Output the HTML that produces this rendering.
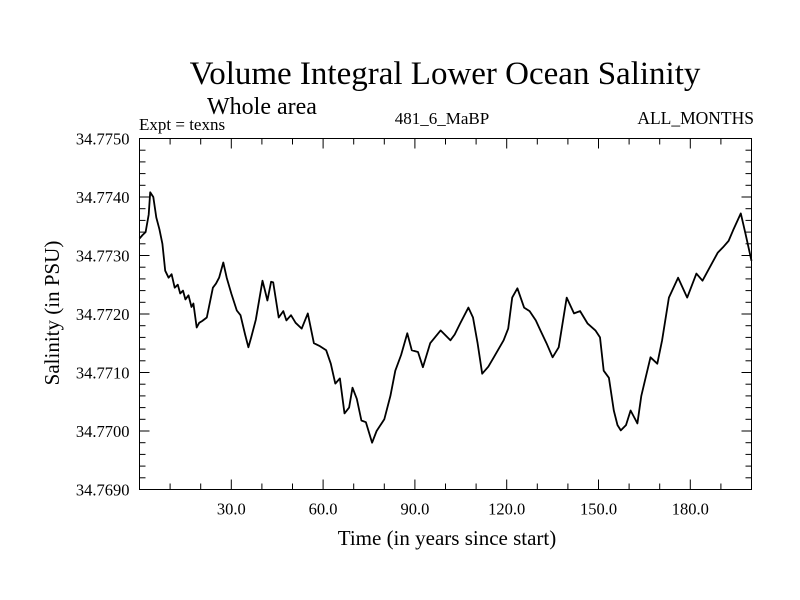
<!DOCTYPE html>
<html><head><meta charset="utf-8"><style>
body{margin:0;background:#fff}
svg{display:block;font-family:"Liberation Serif",serif}
</style></head><body>
<svg id="chart" width="800" height="600" viewBox="0 0 800 600">
<rect width="800" height="600" fill="#fff"/>
<text x="445" y="84" font-size="33" text-anchor="middle">Volume Integral Lower Ocean Salinity</text>
<text x="207" y="114" font-size="24">Whole area</text>
<text x="139" y="130" font-size="17">Expt = texns</text>
<text x="442" y="124" font-size="17" text-anchor="middle">481_6_MaBP</text>
<text x="754" y="124" font-size="17.5" text-anchor="end">ALL_MONTHS</text>
<text transform="translate(59,313) rotate(-90)" font-size="21" text-anchor="middle">Salinity (in PSU)</text>
<text x="447" y="545" font-size="21" text-anchor="middle">Time (in years since start)</text>
<g id="axes"></g>
<path id="line" fill="none" stroke="#000" stroke-width="1.8" stroke-linejoin="round"/>
<rect x="139.5" y="138.5" width="612" height="351" fill="none" stroke="#000" stroke-width="1"/>
</svg>
<script>
const years=[0,1,2,3,3.5,4.5,5.5,6.5,7.5,8.4,9.5,10.5,11.5,12.5,13.3,14.2,15,16,17,17.6,18.7,19.5,20.5,22,23,24,25,26,27.4,28.5,30,31.8,33,34.5,35.6,36.5,38,40.2,41,41.8,43,43.7,45.5,47,48,49.5,51,53,55,57,59,61,62.5,64,65.5,67,68.5,69.6,71,72.5,74,76,77.5,80,82,83.6,85.5,87.5,89,91,92.6,95,98.4,101.6,103,104.8,107.5,109,110.5,112,114,115.8,119,120.5,121.8,123.5,125.7,127.5,129.5,131,133,135,137,139.6,142,144,146.4,149,150.5,151.7,153.4,155,156.2,157.3,159,160.5,162.7,164,165.4,167,169.2,170.8,173,176,179,182,184,187.5,189,190.7,192.5,194,196.5,198,200];
const salinity=[34.77329,34.77335,34.77340,34.77370,34.77408,34.77400,34.77365,34.77345,34.77320,34.77274,34.77262,34.77268,34.77245,34.77250,34.77235,34.77240,34.77225,34.77232,34.77212,34.77218,34.77177,34.77185,34.77188,34.77194,34.77220,34.77245,34.77252,34.77262,34.77288,34.77262,34.77235,34.77206,34.77198,34.77165,34.77143,34.77160,34.77190,34.77257,34.77240,34.77223,34.77255,34.77254,34.77194,34.77205,34.77189,34.77198,34.77185,34.77175,34.77201,34.77150,34.77145,34.77138,34.77115,34.77081,34.77090,34.77030,34.77040,34.77074,34.77055,34.77018,34.77015,34.76980,34.77000,34.77020,34.77060,34.77103,34.77130,34.77167,34.77138,34.77135,34.77109,34.77150,34.77172,34.77155,34.77165,34.77184,34.77211,34.77194,34.77150,34.77098,34.77110,34.77126,34.77155,34.77175,34.77228,34.77244,34.77211,34.77205,34.77189,34.77172,34.77150,34.77126,34.77143,34.77228,34.77201,34.77205,34.77184,34.77172,34.77160,34.77103,34.77091,34.77035,34.77010,34.77001,34.77010,34.77035,34.77013,34.77060,34.77091,34.77126,34.77115,34.77155,34.77228,34.77262,34.77228,34.77269,34.77257,34.77291,34.77305,34.77314,34.77325,34.77343,34.77372,34.77338,34.77291];
const xTicks=[30,60,90,120,150,180];
const xTickLabels=["30.0","60.0","90.0","120.0","150.0","180.0"];
const yTicks=[34.7690,34.7700,34.7710,34.7720,34.7730,34.7740,34.7750];
const yTickLabels=["34.7690","34.7700","34.7710","34.7720","34.7730","34.7740","34.7750"];
const X0=139.5,X1=751.5,Y0=489.5,Y1=138.5;
const xs=v=>X0+(v-0)/(200-0)*(X1-X0);
const ys=v=>Y0-(v-34.769)/(34.775-34.769)*(Y0-Y1);
const NS='http://www.w3.org/2000/svg';
const g=document.getElementById('axes');
function ln(x1,y1,x2,y2,name){const l=document.createElementNS(NS,'line');
l.setAttribute('x1',x1);l.setAttribute('y1',y1);l.setAttribute('x2',x2);l.setAttribute('y2',y2);l.setAttribute('stroke','#000');


g.appendChild(l);}
function tx(x,y,s,anchor,name){const t=document.createElementNS(NS,'text');
t.setAttribute('x',x);t.setAttribute('y',y);t.setAttribute('font-size','16.5');t.setAttribute('text-anchor',anchor);t.textContent=s;


g.appendChild(t);}
for(let v=10;v<200;v+=10){const x=xs(v);const L=(v%30===0)?10:6;
ln(x,Y0,x,Y0-L,'x-tick');ln(x,Y1,x,Y1+L,'x-tick-top');}
for(let i=1;i<30;i++){const v=34.769+i*0.0002;const y=ys(v);const L=(i%5===0)?10:6;
ln(X0,y,X0+L,y,'y-tick');ln(X1,y,X1-L,y,'y-tick-right');}
xTicks.forEach((v,i)=>tx(xs(v),Y0+25,xTickLabels[i],'middle','x-tick-label'));
yTicks.forEach((v,i)=>tx(X0-10,ys(v)+6,yTickLabels[i],'end','y-tick-label'));
document.getElementById('line').setAttribute('d',years.map((t,i)=>(i?'L':'M')+xs(t).toFixed(1)+' '+ys(salinity[i]).toFixed(1)).join(''));
</script>
</body></html>
